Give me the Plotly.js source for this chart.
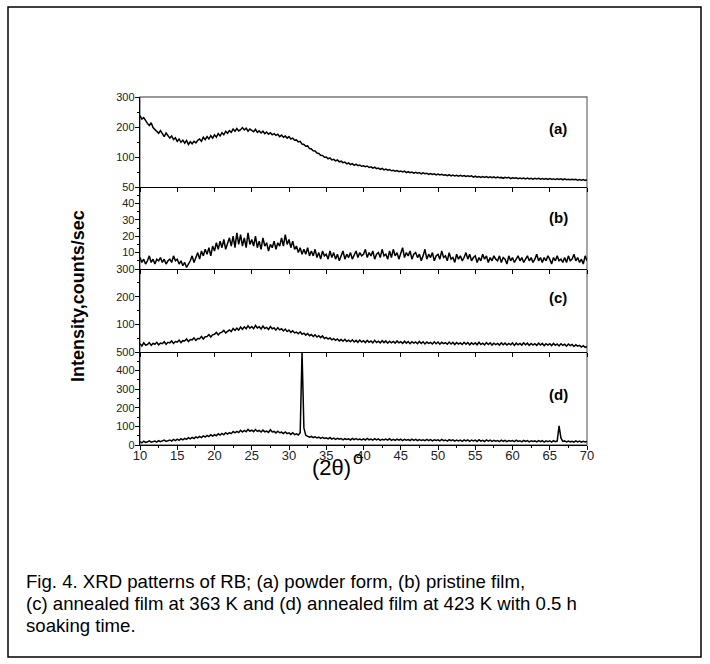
<!DOCTYPE html>
<html>
<head>
<meta charset="utf-8">
<script src="https://cdn.plot.ly/plotly-3.0.1.min.js"></script>
<style>html,body{margin:0;padding:0;background:#fff;}#chart{width:710px;height:664px;}</style>
</head>
<body>
<div id="chart"></div>
<script>
// 2θ sampling: start 10°, step 0.25°, 241 samples up to 70°
const twoThetaStart = 10;
const twoThetaStep = 0.25;

// (a) powder form — counts/sec
const powderA = [
238,226,231,219, 212,205,214,198, 192,186,179,188, 176,168,180,171, 163,170,158,164,
152,160,149,156, 146,155,142,151, 144,152,147,156, 160,152,166,158, 168,160,171,163,
174,166,178,170, 181,174,186,179, 188,182,193,186, 195,187,191,198, 190,196,186,193,
189,184,192,182, 187,180,186,178, 183,176,181,174, 178,172,176,168, 173,166,170,163,
168,160,163,156, 157,150,152,143, 142,136,137,128, 127,121,120,113, 112,106,105,99,
100,94,97,90, 92,87,90,84, 86,81,83,77, 80,75,78,72, 76,71,73,69,
71,68,70,65, 67,63,66,61, 63,59,62,57, 60,56,58,54, 56,53,55,51,
53,50,53,48, 51,48,50,46, 49,46,48,44, 47,44,46,42, 45,42,44,40,
43,40,42,39, 41,38,41,37, 40,37,39,36, 39,36,38,35, 37,35,37,33,
36,33,35,32, 35,32,35,31, 34,31,34,30, 33,31,32,29, 32,30,32,28,
31,29,31,28, 30,28,30,27, 30,27,29,26, 29,27,29,26, 28,26,28,25,
28,26,27,25, 27,25,27,24, 27,24,26,24, 26,24,26,23, 25,23,25,22,
24];

// (b) pristine film
const pristineB = [
7,4,6,3, 5,8,4,6, 3,6,5,7, 4,6,3,5, 6,4,8,5,
6,3,5,2, 4,1,3,5, 8,4,7,10, 6,11,8,12, 9,13,8,14,
11,16,12,17, 13,18,12,16, 19,14,20,13, 22,15,21,14, 19,13,22,15,
18,14,20,13, 17,12,19,14, 16,11,15,13, 17,12,16,14, 19,14,21,15,
18,13,17,12, 14,10,13,9, 12,9,13,8, 11,8,12,7, 10,6,11,8,
9,6,11,7, 10,6,9,5, 8,11,6,9, 7,10,6,9, 11,7,10,8,
9,12,7,10, 8,11,6,9, 10,7,12,8, 9,6,11,7, 12,8,10,6,
9,13,7,10, 8,11,6,9, 10,7,9,5, 8,12,6,9, 7,10,5,8,
9,6,11,7, 8,5,10,6, 7,4,9,6, 8,5,7,10, 6,9,5,7,
8,4,7,5, 9,6,8,4, 7,5,8,6, 5,8,4,7, 6,3,8,5,
7,4,6,8, 5,7,4,6, 8,5,7,4, 6,9,5,7, 4,7,5,8,
6,3,7,5, 8,5,6,4, 7,4,8,5, 6,9,5,7, 4,6,3,8,
5];

// (c) annealed film at 363 K
const anneal363C = [
30,22,33,25, 27,34,24,31, 28,35,26,32, 30,37,28,35, 33,40,31,38,
36,43,34,41, 40,47,38,45, 44,51,42,49, 48,56,47,55, 56,63,54,62,
64,71,62,69, 72,78,69,76, 80,74,85,78, 86,79,90,82, 91,84,95,86,
92,84,96,87, 91,83,94,85, 89,81,92,84, 87,79,88,80, 84,76,83,74,
79,71,77,69, 72,66,73,64, 68,61,67,59, 63,56,62,54, 59,52,58,49,
53,47,51,44, 48,42,47,40, 45,39,46,38, 43,37,44,36, 42,35,43,36,
41,34,42,35, 40,33,42,34, 39,33,41,34, 40,32,39,33, 38,32,40,33,
37,31,39,32, 38,30,37,32, 36,30,38,31, 37,29,36,31, 35,29,37,30,
36,28,35,30, 34,28,36,29, 35,27,34,29, 33,27,35,28, 34,26,33,28,
33,26,35,27, 32,26,34,27, 33,25,32,27, 31,25,33,26, 32,25,31,26,
33,24,32,26, 31,25,33,26, 32,24,31,25, 30,24,32,25, 31,23,30,25,
30,23,31,24, 29,22,30,24, 28,21,29,23, 27,20,26,21, 24,18,23,17,
19];

// (d) annealed film at 423 K, 0.5 h soaking
const anneal423D = [
18,12,20,14, 17,22,15,19, 21,15,23,18, 20,26,19,24, 27,21,30,24,
31,25,34,28, 36,30,39,33, 41,35,44,38, 46,40,49,43, 51,45,55,48,
56,50,60,53, 62,55,66,59, 67,61,72,65, 73,67,79,70, 78,71,84,74,
80,72,83,73, 78,70,80,71, 75,68,82,70, 73,65,74,66, 69,62,70,61,
65,57,66,56, 60,54,66,500, 92,52,47,42, 46,40,44,38, 42,36,41,35,
39,33,40,32, 37,30,36,31, 35,28,34,30, 33,27,35,29, 34,28,32,27,
33,27,35,28, 32,26,34,27, 33,25,31,27, 32,26,34,25, 30,25,32,26,
31,24,30,26, 29,24,31,25, 30,23,29,25, 28,23,30,24, 29,22,28,24,
28,22,30,23, 27,21,29,23, 28,21,27,22, 26,20,28,22, 27,20,26,22,
26,19,28,21, 25,19,27,21, 26,19,25,20, 24,18,26,20, 25,18,24,20,
24,18,26,19, 23,17,25,19, 24,17,23,19, 22,17,24,18, 23,16,22,18,
22,16,24,18, 21,103,38,19, 22,16,21,17, 20,15,22,17, 21,15,20,16,
19];

const panelLabels = ["(a)", "(b)", "(c)", "(d)"];
const yRanges = [[0, 300], [0, 50], [0, 300], [0, 500]];
const yTickVals = [[100, 200, 300], [10, 20, 30, 40, 50], [100, 200, 300], [0, 100, 200, 300, 400, 500]];
const yMinorVals = [[50, 150, 250], [5, 15, 25, 35, 45], [50, 150, 250], [50, 150, 250, 350, 450]];
const xTickStep = 5;
const yTitle = "Intensity,counts/sec";
const xTitleMain = "(2θ)";
const xTitleDegree = "o";
const captionLines = [
  "Fig. 4. XRD patterns of RB; (a) powder form, (b) pristine film,",
  "(c) annealed film at 363 K and (d) annealed film at 423 K with 0.5 h",
  "soaking time."
];

const series = [powderA, pristineB, anneal363C, anneal423D];
const twoTheta = powderA.map((_, i) => twoThetaStart + i * twoThetaStep);

const W = 710, H = 664;
const px = v => v / W;
const py = v => 1 - v / H;
const xLeft = 140, xRight = 587;
const panelTops = [97, 187, 269, 352];
const panelBots = [187, 269, 352, 445];
const labelY = [129, 217, 297, 394];

const font = "Liberation Sans, Arial, sans-serif";
const traces = series.map((ys, k) => ({
  x: twoTheta, y: ys, type: "scatter", mode: "lines",
  line: {color: "#000", width: 1.5},
  xaxis: k === 0 ? "x" : "x" + (k + 1),
  yaxis: k === 0 ? "y" : "y" + (k + 1),
  showlegend: false, hoverinfo: "skip"
}));

const layout = {
  width: W, height: H,
  margin: {l: 0, r: 0, t: 0, b: 0},
  paper_bgcolor: "#fff", plot_bgcolor: "rgba(0,0,0,0)",
  showlegend: false,
  font: {family: font, color: "#000"},
  annotations: [],
  shapes: [
    {type: "rect", xref: "paper", yref: "paper", x0: px(8), x1: px(701), y0: py(657), y1: py(7),
     line: {color: "#000", width: 1.5}, fillcolor: "rgba(0,0,0,0)"},
    {type: "rect", xref: "paper", yref: "paper", x0: px(xLeft), x1: px(xRight), y0: py(panelBots[3]), y1: py(panelTops[0]),
     line: {color: "#777", width: 1.3}, fillcolor: "rgba(0,0,0,0)", layer: "below"}
  ]
};

for (let k = 0; k < 4; k++) {
  const xa = k === 0 ? "xaxis" : "xaxis" + (k + 1);
  const ya = k === 0 ? "yaxis" : "yaxis" + (k + 1);
  const yid = k === 0 ? "y" : "y" + (k + 1);
  const xid = k === 0 ? "x" : "x" + (k + 1);
  const last = k === 3;
  layout[xa] = {
    domain: [px(xLeft), px(xRight)], anchor: yid, range: [10, 70],
    showline: true, linecolor: "#000", linewidth: 1.3, mirror: false,
    ticks: "outside", ticklen: 4, tickcolor: "#000", tickwidth: 1,
    tickmode: "linear", tick0: 10, dtick: xTickStep,
    showticklabels: last, showgrid: false, zeroline: false,
    ticklabelstandoff: last ? -6 : 0,
    tickfont: {family: font, size: 13, color: "#222"},
    minor: last ? {ticks: "outside", ticklen: 2, dtick: 2.5, tickcolor: "#000", showgrid: false} : undefined,
    fixedrange: true
  };
  layout[ya] = {
    domain: [py(panelBots[k]), py(panelTops[k])], anchor: xid, range: yRanges[k],
    showline: true, linecolor: "#000", linewidth: 1.3,
    ticks: "outside", ticklen: 4, tickcolor: "#000",
    tickmode: "array", tickvals: yTickVals[k],
    ticklabelstandoff: -2,
    minor: {ticks: "outside", ticklen: 2, tickmode: "array", tickvals: yMinorVals[k], tickcolor: "#000", showgrid: false},
    showgrid: false, zeroline: false,
    tickfont: {family: font, size: 11, color: "#222"},
    fixedrange: true
  };
  layout.annotations.push({
    text: "<b>" + panelLabels[k] + "</b>", xref: "paper", yref: "paper",
    x: px(558), y: py(labelY[k]), xanchor: "center", yanchor: "middle",
    showarrow: false, font: {family: font, size: 15, color: "#000"}
  });
}

layout.annotations.push({
  text: "<b>" + yTitle + "</b>", xref: "paper", yref: "paper",
  x: px(78), y: py(296), xanchor: "center", yanchor: "middle", textangle: -90,
  showarrow: false, font: {family: font, size: 18, color: "#000"}
});
layout.annotations.push({
  text: xTitleMain, xref: "paper", yref: "paper",
  x: px(331), y: py(467), xanchor: "center", yanchor: "middle",
  showarrow: false, font: {family: font, size: 22, color: "#000"}
});
layout.annotations.push({
  text: xTitleDegree, xref: "paper", yref: "paper",
  x: px(358), y: py(458), xanchor: "center", yanchor: "middle",
  showarrow: false, font: {family: font, size: 18, color: "#000"}
});
captionLines.forEach((t, i) => {
  layout.annotations.push({
    text: t, xref: "paper", yref: "paper",
    x: px(24), y: py(581 + 22 * i), xanchor: "left", yanchor: "middle", align: "left",
    showarrow: false, font: {family: font, size: 18.6, color: "#000"}
  });
});

Plotly.newPlot("chart", traces, layout, {staticPlot: true, displayModeBar: false});
</script>
</body>
</html>
